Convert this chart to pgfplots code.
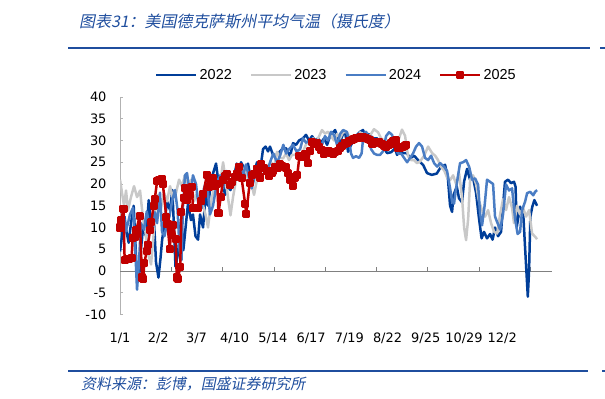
\documentclass[border=0pt]{standalone}
\usepackage{pgfplots}
\pgfplotsset{compat=1.18}
\usepackage{fontspec}
\newfontfamily\dejavu{DejaVu Sans}
\newfontfamily\libsans{Liberation Sans}
\newfontfamily\cjk[FakeSlant=0.2]{Noto Sans CJK SC}
\definecolor{c22}{HTML}{003E99}
\definecolor{c23}{HTML}{C8C8C8}
\definecolor{c24}{HTML}{4A7DC4}
\definecolor{c25}{HTML}{C00000}
\definecolor{tblue}{HTML}{1F4E9E}
\begin{document}
\begin{tikzpicture}[x=1bp,y=1bp]
\useasboundingbox (0,0) rectangle (605,398);
\node[anchor=west, inner sep=0, text=tblue, font=\cjk\fontsize{16}{18}\selectfont] at (79,377) {图表31：美国德克萨斯州平均气温（摄氏度）};
\draw[tblue, line width=1.8bp] (68,350) -- (590,350);
\draw[tblue, line width=1.8bp] (600,350) -- (605,350);
\draw[tblue, line width=1.5bp] (68,27) -- (588,27);
\draw[tblue, line width=1.5bp] (602,27) -- (605,27);
\node[anchor=west, inner sep=0, text=tblue, font=\cjk\fontsize{15}{18}\selectfont] at (81,14) {资料来源：彭博，国盛证券研究所};
\begin{axis}[
  at={(120bp,83.5bp)}, anchor=south west,
  scale only axis, width=432bp, height=217.5bp,
  xmin=0, xmax=373, ymin=-10, ymax=40,
  axis lines=left, axis line style={-},
  x axis line style={draw=none},
  y axis line style={draw=black!30, line width=1bp},
  xtick={0,33,66,99,132,165,198,231,264,297,330},
  xticklabels={1/1,2/2,3/7,4/10,5/14,6/17,7/19,8/22,9/25,10/29,12/2},
  xtick style={draw=none},
  ytick={-10,-5,0,5,10,15,20,25,30,35,40},
  yticklabels={-10,-5,0,5,10,15,20,25,30,35,40},
  ytick style={draw=black!30, line width=0.8bp},
  tick align=inside, major tick length=3bp,
  ticklabel style={font=\dejavu\fontsize{13}{15}\selectfont, text=black},
  xticklabel style={yshift=-15bp},
  yticklabel style={xshift=-10bp},
  every axis plot/.append style={line width=2.5bp, line join=round},
  legend columns=4,
  legend style={at={(0.081,1.101)}, anchor=west, draw=none, fill=none, inner sep=0,
    font=\libsans\fontsize{14.5}{16}\selectfont, nodes={inner sep=2bp},
    /tikz/every even column/.append style={column sep=16bp}},
  legend image code/.code={\draw[mark repeat=2,mark phase=2,#1] plot coordinates {(0bp,0bp)(20bp,0bp)(40bp,0bp)};},
]
\draw[black!50, line width=0.9bp] (axis cs:0,0) -- (axis cs:373,0);
\pgfplotsinvokeforeach{44.3,88.6,132.9,177.2,221.5,265.8,310.1,354.4}{\draw[black!50, line width=0.8bp] (axis cs:#1,0) -- (axis cs:#1,0.9);}
\addplot[c22, mark=none] coordinates {(0,4.5)(1.7,8)(3.9,12.5)(5.6,9)(7.5,6.5)(9.5,11)(11.8,15)(13.4,6)(14.7,-1.5)(16.4,-2)(18.1,5)(19.9,10)(22.5,8)(24.8,16.3)(26.8,10)(29.1,13)(31.1,2)(33.2,-1.5)(35,3)(36.3,7)(38.9,12)(40.6,16)(43.2,14)(45.2,18.6)(46.6,10)(47.9,1)(50.1,4)(52.7,12)(54.7,4.8)(57,11)(58.7,15.5)(61.3,11.7)(63,13)(65.2,8)(67.4,7.2)(69.1,13)(71.7,10)(73.8,17)(76,15)(78.2,19.5)(80.3,22.4)(82.9,24.7)(85.5,19.4)(88.1,21)(90.7,17.5)(93.3,19.5)(95.4,18.6)(97.8,20.9)(100.8,24.7)(102.8,22)(104.5,25)(106.5,24)(108.4,22)(110.5,24.7)(113.7,20.1)(115.7,22.5)(118.3,25)(120.9,23)(123.5,28)(125.7,28.6)(127.8,27.5)(129.5,28.6)(132.1,26.7)(135.6,26.7)(138.2,27.5)(140.8,28.2)(143.4,28.2)(146.8,26.3)(149.4,29.4)(152,29)(154.6,30)(158,30.5)(160.6,31.3)(163.2,30)(165.8,31)(168.4,30)(171,30.5)(173.6,29.5)(176.2,30.5)(178.8,29)(181.3,31)(185.7,32.4)(188.3,30.5)(190,29.7)(192.6,31.5)(194.3,32)(196.9,27.4)(199.5,29)(202,30)(204.7,31.3)(207.3,32)(209.8,32.4)(212.4,31)(215,31.5)(218.5,30.5)(221.9,30.5)(224.5,29.5)(227.1,28.6)(230.6,27.1)(234,27.3)(237.5,28.2)(239.2,26.7)(241.8,27.5)(244.4,27.1)(247.8,27.1)(250.4,25.9)(254,26.5)(257.3,25.5)(261.7,24.4)(265.1,22.5)(269.2,22.1)(273.5,22.4)(277.2,24)(280.7,24.4)(283.2,21)(285,15)(286.7,13.6)(288,17.5)(290.8,19.4)(292.7,16.7)(295.3,15.8)(297.1,20.6)(299.7,23.5)(302.2,21)(304.8,21.5)(307.4,18)(310,12)(312.2,7.5)(314.3,9)(316.9,7.5)(319.5,8.5)(321.7,7.2)(323.8,10)(326.4,8)(329,9)(330.7,15)(332.4,20.5)(335,21)(337.6,20.2)(340.2,20.5)(341.5,19.4)(342.6,10.2)(345.4,14.8)(348.3,12.5)(349.7,5.6)(352.1,-5.9)(353.2,0.2)(354.3,12.5)(356,14.8)(357.8,16.3)(360.1,15)};
\addlegendentry{2022}
\addplot[c23, mark=none] coordinates {(0,21)(1.7,18)(3.5,15)(5.2,18.5)(6.9,14)(9.5,17)(12.1,19.5)(14.7,17)(17.3,18.5)(19.9,12)(22,9)(24.2,4)(26.8,1.5)(28.9,8)(30.7,15)(32.8,17.5)(35.4,14.5)(38,18)(40.6,16)(43.2,19.5)(45.8,16.6)(48.4,18)(51,21)(53.5,19.5)(56.1,22)(58.7,19.5)(61.3,21)(63.9,16)(66.5,18)(69.1,14)(71.7,15)(73.8,13)(76,10)(78.6,16)(81.2,19)(83.8,21)(86.4,20)(89,25)(91.5,20.5)(93.7,16)(95.4,12.8)(97.6,17)(100.2,21)(102.8,23)(105.4,22)(108,24)(110.5,21)(113.1,20.6)(115.7,17.5)(118.3,21)(120.9,24.4)(123.9,23.6)(126.9,24)(130.4,25)(133,24)(135.6,27.4)(138.2,26)(140.8,25.9)(143.4,27)(145.9,25.5)(148.5,26.7)(151.1,26.7)(153.7,27.4)(156.3,26)(158.9,28)(161.5,29.7)(164.1,29)(166.7,30.5)(169.3,29.5)(171.9,31)(174.4,32.4)(177,31.6)(179.6,32)(182.2,31)(184.8,30)(187.4,31.5)(190,30.5)(192.6,31.9)(196,31.9)(198.6,30.5)(201.2,31)(204.7,30)(207.3,31.9)(210.7,31.1)(214.1,30.5)(216.7,31.5)(219.3,32.6)(222.8,31.9)(225.4,30.5)(228,30)(231.4,29.3)(234.9,28.6)(238.3,29.5)(240.9,30.5)(243.5,32.5)(246.1,31.1)(248.7,26.4)(251.3,25.5)(253.9,25.5)(256.5,24.8)(259.1,25.2)(262.6,26.5)(266,28.6)(269.5,27.1)(272.1,26.5)(274.6,25.5)(277.2,23.9)(279.8,23.2)(282.4,21.5)(285,20.9)(287.6,22)(290.2,20)(292.8,22.5)(295.3,17)(297.1,10)(298.8,7.1)(300.6,12)(302.3,21)(304.8,22)(307.4,20)(310,16)(312.6,14)(315.2,12.5)(317.8,14)(320.4,11)(323,9)(325.6,8.6)(328.2,13)(330.7,16.5)(333.3,14)(335.9,17)(338.5,14.5)(340.2,11)(342.8,15)(345.4,13)(348,14.5)(350.6,12.5)(353.2,14)(355.8,8.6)(358.4,7.9)(360.1,7.3)};
\addlegendentry{2023}
\addplot[c24, mark=none] coordinates {(0,9)(1.7,12)(3,13.8)(4.7,9)(6.9,11)(8.6,13)(11.2,14.5)(13,6)(14.7,-4.3)(16.4,2)(18.1,11)(20.7,9.5)(23.1,13.7)(25,11)(26.8,12)(28.5,10)(30.2,13.5)(32,11)(34.5,18)(36.3,9)(38.4,8)(40.6,11)(42.7,12.5)(44.9,16)(47.5,18.6)(49.7,14)(51.4,5)(53.1,2.5)(54.4,15)(56.1,22)(57.9,22.5)(60.5,17)(63,22)(65.6,20)(67.8,15)(70.6,14.5)(72.5,19)(74.9,21)(77.7,13)(80.3,15)(83.5,20)(86.4,22)(89,19)(92.1,23)(95,20)(97.6,21)(100.6,23)(103.6,24)(106.2,22)(108.8,24.5)(111.4,21.5)(113.7,19)(115.7,21)(118.1,24)(120.9,21.5)(123.5,25)(126.7,22)(129.5,25)(132.4,27)(135.6,25)(138.2,26.5)(141,29)(143.4,27)(145.9,28)(149.4,29)(152.4,27.5)(155.5,28)(158,30.5)(160.6,29.5)(163.2,30)(166.7,30)(169.3,28.5)(171.9,29.5)(174.4,29)(177,31)(179.6,30)(182.2,32)(184.8,31.3)(187.4,29)(190,31.5)(192.6,32.4)(195.8,32)(197.8,30)(199.5,27)(201.2,26)(203.8,26.4)(206.4,26)(208.6,27)(210.3,31.5)(212.4,32)(214.6,31)(216.8,28)(219.4,27)(221.9,26.7)(224.5,26.7)(227.1,27.5)(229.7,31)(232.3,31.9)(234.9,31.3)(237.5,28.5)(240.1,27)(242.7,27)(245.3,26)(247.9,25)(250.4,26)(253,27)(255.6,28.6)(258.2,29.4)(260.8,28.6)(263.4,26)(266,25.5)(268.6,26.5)(271.2,24.8)(273.8,24)(276.4,24.8)(279.8,24)(282.4,23)(285,19)(286.7,16)(288.4,15.5)(290.2,19)(291.9,22)(293.6,24.8)(296.2,25)(298.8,25.5)(301.4,24)(304,21)(306.6,21.3)(309.2,19.8)(310.9,13.2)(312.6,10.5)(314.8,15)(316.9,21)(319.5,20.5)(322.1,20)(323.8,12.5)(326,11)(328.2,9.5)(330.7,13)(333.3,19.9)(335.9,18.5)(338.5,19)(341.1,12)(343.3,8.5)(345.4,9)(347.2,14)(349.8,16)(351.5,17.9)(354.2,18.2)(356.8,17.4)(358.4,18.2)(360.1,18.6)};
\addlegendentry{2024}
\addplot[c25, mark=square*, mark size=2.8bp, mark options={solid}] coordinates {(0,10)(1,11.6)(3,14.3)(4,2.5)(6,2.7)(8,2.8)(10,3)(11,7.6)(13,7.8)(14,9.3)(17,12.6)(19,-1.5)(20,-1.8)(21,1.8)(23,4.5)(24,6)(26,9.4)(27,11.2)(29,15)(30,16.5)(32,20.6)(34,21)(36,21.2)(37,20)(40,12.3)(41,10.8)(43,5)(44,9)(46,10.5)(48,7.3)(49,-1.5)(50,-1.8)(52,1)(53,13.5)(55,16.8)(56,19)(58,16.3)(60,17.5)(62,19.4)(63,14.4)(65,14.4)(67,14.4)(70,16)(72,17.8)(75,22.1)(77,19.4)(79,20)(80,21.3)(82,19.6)(84,20.1)(85,13.3)(87,17)(89,21)(91,21.8)(92,22.4)(95,19.8)(97,20.5)(99,21.7)(101,22.3)(103,24)(105,21.3)(108,15.5)(109,13.2)(112,20.3)(114,22)(116,22.4)(118,23.5)(121,21.5)(122,24.5)(124,23.6)(127,23)(129,21.9)(131,22.5)(132,23)(134,24)(136,23.8)(138,24.5)(140,24.2)(143,23.8)(145,22.5)(147,21)(149,19.6)(151,21.5)(153,22)(155,26.5)(157,26.3)(160,27)(162,24.8)(164,27.5)(166,29.6)(168,29.3)(170,29.5)(172,28.5)(174,27.8)(176,27)(178,27.3)(180,27.5)(182,27.2)(184,27)(186,27.4)(188,27.5)(190,28.3)(192,28.8)(194,29.3)(196,29.5)(198,29.8)(200,30.1)(202,30.4)(204,30.5)(206,30.6)(208,30.8)(210,30.9)(212,30.5)(214,30.3)(216,30.1)(218,29.3)(220,29.5)(222,29.6)(224,29.7)(226,29.2)(228,28.8)(230,28.6)(232,29)(234,29.3)(236,29.8)(238,30.1)(240,28.2)(242,28.4)(244,28.6)(246,28.8)(247,29)};
\addlegendentry{2025}
\end{axis}
\end{tikzpicture}
\end{document}
